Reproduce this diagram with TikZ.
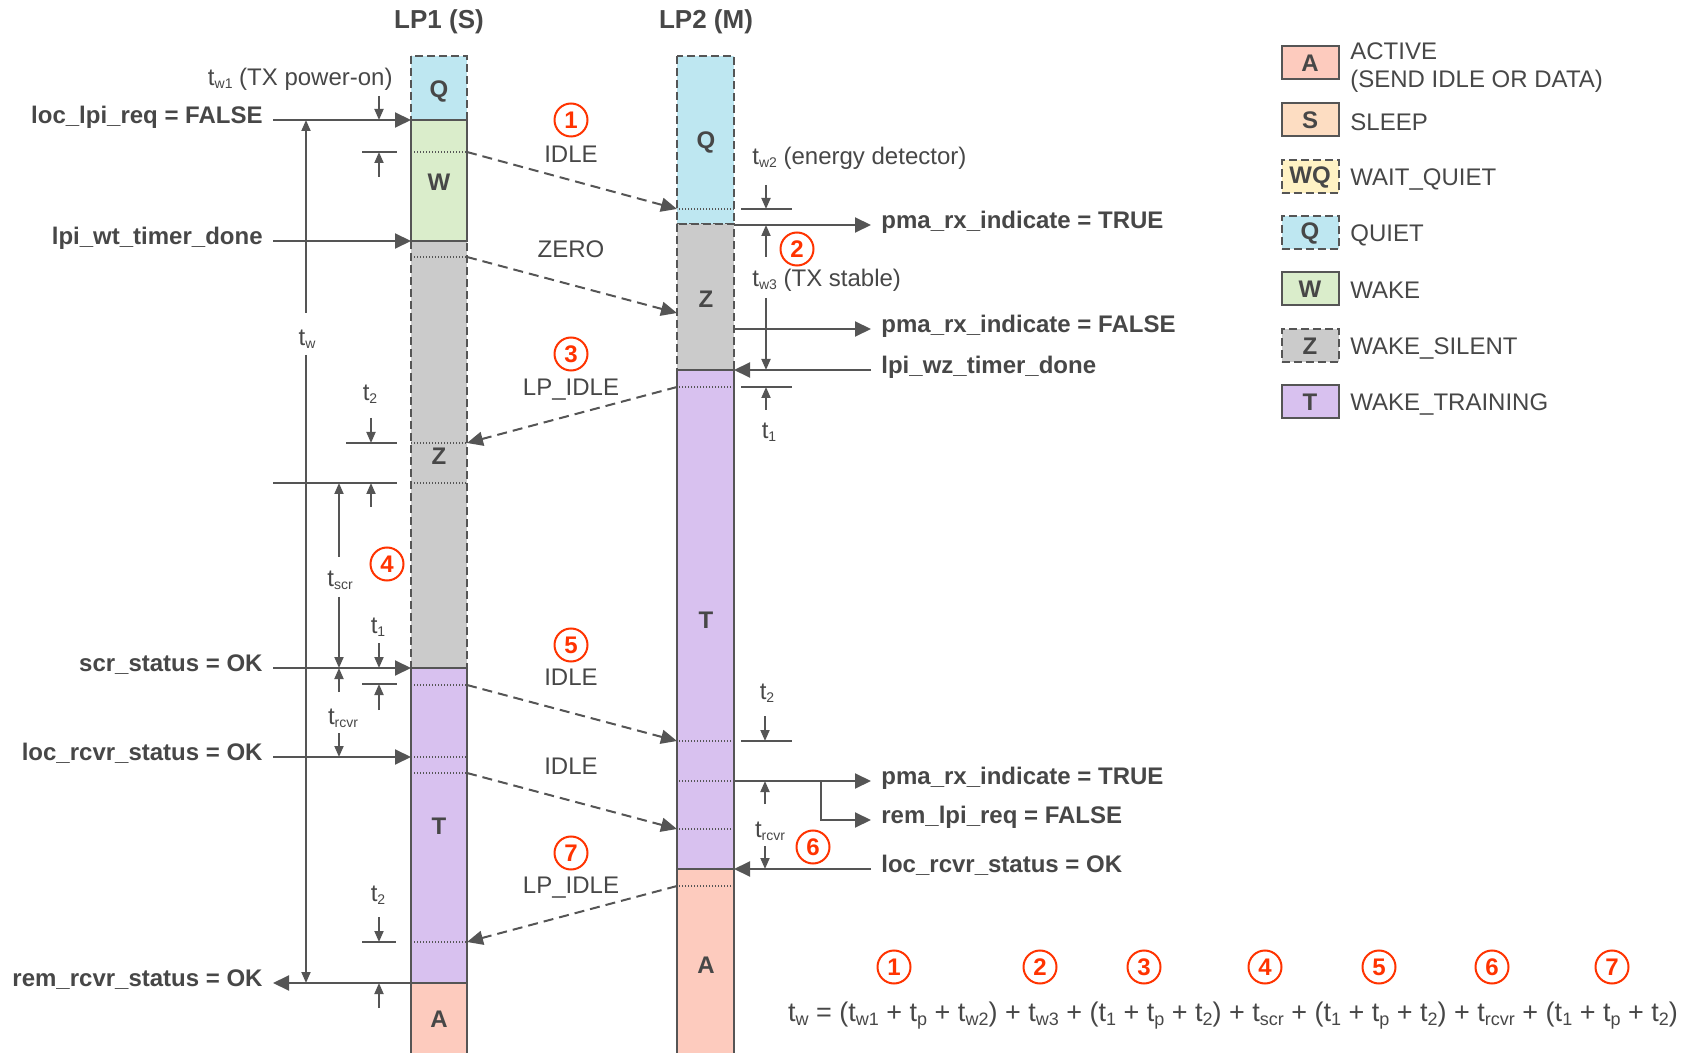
\documentclass[tikz,border=0pt]{standalone}
\usepackage{fontspec}
\setmainfont{Liberation Sans}
\usetikzlibrary{arrows.meta}

\definecolor{ink}{HTML}{474747}
\definecolor{linec}{HTML}{555555}
\definecolor{activec}{HTML}{FDCBBE}
\definecolor{sleepc}{HTML}{FDDDC2}
\definecolor{waitc}{HTML}{FFF2C4}
\definecolor{quietc}{HTML}{BEE7F1}
\definecolor{wakec}{HTML}{DAEDCB}
\definecolor{silentc}{HTML}{CBCBCB}
\definecolor{trainc}{HTML}{D8C1EF}
\definecolor{numred}{HTML}{FF3300}

% t with a lowered subscript
\newcommand{\tsb}[1]{t\raisebox{-1.3pt}{\fontsize{7}{7}\selectfont #1}}
% same, for the sum at the bottom
\newcommand{\tsum}[1]{t\raisebox{-1.8pt}{\fontsize{9}{9}\selectfont #1}}

\tikzset{
  lbl/.style={text=ink, inner sep=0pt, text height=8.6pt, text depth=0pt,
    font=\fontsize{12}{14}\selectfont},
  boldlbl/.style={lbl, font=\bfseries\fontsize{12}{14}\selectfont},
  siglbl/.style={boldlbl, inner xsep=5pt, text depth=5pt},
  sigarrow/.style={draw=linec, line width=1pt, -{Triangle[length=8pt,width=7.5pt]}},
  msgarrow/.style={draw=linec, line width=1pt, dash pattern=on 5pt off 3pt,
    -{Triangle[length=8pt,width=7pt]}},
  dimarrow/.style={draw=linec, line width=0.9pt, -{Triangle[length=5.5pt,width=4.5pt]}},
  tickline/.style={draw=linec, line width=1pt},
  dotline/.style={draw=linec, line width=0.7pt, dash pattern=on 0.7pt off 0.8pt},
  segline/.style={draw=linec, line width=1pt},
  segdashed/.style={segline, dash pattern=on 4pt off 2pt},
  numcirc/.style={circle, draw=numred, line width=1pt, text=numred, inner sep=0pt,
    minimum size=16.5pt, font=\bfseries\fontsize{12}{12}\selectfont},
  legbox/.style={segline, minimum width=28.5pt, minimum height=16.5pt, inner sep=0pt,
    text=ink, font=\bfseries\fontsize{12}{12}\selectfont},
}

\begin{document}
\begin{tikzpicture}[x=0.5pt, y=-0.5pt]
    \useasboundingbox (0,0) rectangle (1693,1053);

    % column headers
    \node[boldlbl, font=\bfseries\fontsize{13}{14}\selectfont] (hone) at (439,20) {LP1 (S)};
    \node[boldlbl, font=\bfseries\fontsize{13}{14}\selectfont] (htwo) at (706,20) {LP2 (M)};

    % LP1 column
    \draw[segdashed, fill=quietc] (411,56) rectangle (467,120);
    \draw[segdashed, fill=silentc] (411,241) rectangle (467,668);
    \draw[segline, fill=wakec] (411,120) rectangle (467,241);
    \draw[segline, fill=trainc] (411,668) rectangle (467,983);
    \draw[segline, fill=activec] (411,983) rectangle (467,1070);
    \node[boldlbl] (qone) at (439,89) {Q};
    \node[boldlbl] (wone) at (439,182) {W};
    \node[boldlbl] (zone) at (439,456) {Z};
    \node[boldlbl] (tone) at (439,826) {T};
    \node[boldlbl] (aone) at (439,1019) {A};

    % LP2 column
    \draw[segdashed, fill=quietc] (677,56) rectangle (734,224);
    \draw[segdashed, fill=silentc] (677,224) rectangle (734,370);
    \draw[segline, fill=trainc] (677,370) rectangle (734,869);
    \draw[segline, fill=activec] (677,869) rectangle (734,1070);
    \node[boldlbl] (qtwo) at (706,140) {Q};
    \node[boldlbl] (ztwo) at (706,299) {Z};
    \node[boldlbl] (ttwo) at (706,620) {T};
    \node[boldlbl] (atwo) at (706,965) {A};

    \coordinate (oneL) at (411,0);
    \coordinate (twoR) at (734,0);

    % dotted marks, named at the facing edge
    \foreach \y [count=\i] in {152,257,443,483,685,757,773,942}
        \draw[dotline] (411,\y) -- (467,\y) coordinate (p\i);
    \foreach \y [count=\i] in {209,387,741,781,829,886}
        \draw[dotline] (734,\y) -- (677,\y) coordinate (q\i);
    \coordinate (zeroin) at (677,313);

    % messages between the link partners
    \draw[msgarrow] (p1) -- (q1);
    \draw[msgarrow] (p2) -- (zeroin);
    \draw[msgarrow] (q2) -- (p3);
    \draw[msgarrow] (p5) -- (q3);
    \draw[msgarrow] (p7) -- (q5);
    \draw[msgarrow] (q6) -- (p8);
    \node[numcirc] (n1) at (571,120) {1};
    \node[lbl] (idleA) at (571,154) {IDLE};
    \node[lbl] (zero) at (571,249) {ZERO};
    \node[numcirc] (n3) at (571,354) {3};
    \node[lbl] (lpidleA) at (571,387) {LP\_IDLE};
    \node[numcirc] (n5) at (571,645) {5};
    \node[lbl] (idleB) at (571,677) {IDLE};
    \node[lbl] (idleC) at (571,766) {IDLE};
    \node[numcirc] (n7) at (571,853) {7};
    \node[lbl] (lpidleB) at (571,885) {LP\_IDLE};

    % LP1 signals
    \node[siglbl, anchor=east] (lpireq) at (273,120) {loc\_lpi\_req = FALSE};
    \node[siglbl, anchor=east] (wtdone) at (273,241) {lpi\_wt\_timer\_done};
    \node[siglbl, anchor=east] (scrok) at (273,668) {scr\_status = OK};
    \node[siglbl, anchor=east] (rcvrok) at (273,757) {loc\_rcvr\_status = OK};
    \node[siglbl, anchor=east] (remok) at (273,983) {rem\_rcvr\_status = OK};
    \draw[sigarrow] (lpireq.east) -- (lpireq.east -| oneL);
    \draw[sigarrow] (wtdone.east) -- (wtdone.east -| oneL);
    \draw[sigarrow] (scrok.east) -- (scrok.east -| oneL);
    \draw[sigarrow] (rcvrok.east) -- (rcvrok.east -| oneL);
    \draw[sigarrow] (remok.east -| oneL) -- (remok.east);

    % LP2 signals
    \node[siglbl, anchor=west] (pmaon) at (871,225) {pma\_rx\_indicate = TRUE};
    \node[siglbl, anchor=west] (pmaoff) at (871,329) {pma\_rx\_indicate = FALSE};
    \node[siglbl, anchor=west] (wzdone) at (871,370) {lpi\_wz\_timer\_done};
    \node[siglbl, anchor=west] (pmaonB) at (871,781) {pma\_rx\_indicate = TRUE};
    \node[siglbl, anchor=west] (remlpi) at (871,820) {rem\_lpi\_req = FALSE};
    \node[siglbl, anchor=west] (rcvrokB) at (871,869) {loc\_rcvr\_status = OK};
    \coordinate (branch) at (821,781);
    \draw[sigarrow] (pmaon.west -| twoR) -- (pmaon.west);
    \draw[sigarrow] (pmaoff.west -| twoR) -- (pmaoff.west);
    \draw[sigarrow] (wzdone.west) -- (wzdone.west -| twoR);
    \draw[sigarrow] (pmaonB.west -| twoR) -- (pmaonB.west);
    \draw[sigarrow] (branch) |- (remlpi.west);
    \draw[sigarrow] (rcvrokB.west) -- (rcvrokB.west -| twoR);
    \node[numcirc] (n2) at (797,249) {2};
    \node[numcirc] (n6) at (813,847) {6};

    % timing marks, LP1 side
    \node[lbl, anchor=east] (tw1) at (393,77) {\tsb{w1} (TX power-on)};
    \draw[dimarrow] (379,96) -- (379,120);
    \draw[tickline] (362,152) -- (397,152);
    \draw[dimarrow] (379,177) -- (379,152);
    \node[lbl] (tw) at (307,337) {\tsb{w}};
    \draw[dimarrow] (306,313) -- (306,120);
    \draw[dimarrow] (306,355) -- (306,983);
    \node[lbl] (ttwoA) at (370,392) {\tsb{2}};
    \draw[dimarrow] (371,418) -- (371,443);
    \draw[tickline] (346,443) -- (397,443);
    \draw[tickline] (273,483) -- (397,483);
    \draw[dimarrow] (371,507) -- (371,483);
    \node[lbl] (tscr) at (340,578) {\tsb{scr}};
    \draw[dimarrow] (339,557) -- (339,483);
    \draw[dimarrow] (339,597) -- (339,668);
    \node[numcirc] (n4) at (387,564) {4};
    \node[lbl] (tonA) at (378,625) {\tsb{1}};
    \draw[dimarrow] (379,643) -- (379,668);
    \draw[tickline] (362,684) -- (397,684);
    \draw[dimarrow] (379,710) -- (379,684);
    \node[lbl] (trcvrA) at (343,716) {\tsb{rcvr}};
    \draw[dimarrow] (339,692) -- (339,668);
    \draw[dimarrow] (339,733) -- (339,757);
    \node[lbl] (ttwoB) at (378,893) {\tsb{2}};
    \draw[dimarrow] (379,917) -- (379,942);
    \draw[tickline] (362,942) -- (396,942);
    \draw[dimarrow] (379,1008) -- (379,983);

    % timing marks, LP2 side
    \node[lbl, anchor=west] (tw2) at (752,156) {\tsb{w2} (energy detector)};
    \draw[dimarrow] (766,185) -- (766,209);
    \draw[tickline] (741,209) -- (792,209);
    \draw[dimarrow] (766,257) -- (766,225);
    \node[lbl, anchor=west] (tw3) at (752,278) {\tsb{w3} (TX stable)};
    \draw[dimarrow] (766,298) -- (766,370);
    \draw[tickline] (741,387) -- (792,387);
    \draw[dimarrow] (766,410) -- (766,387);
    \node[lbl] (tonB) at (769,430) {\tsb{1}};
    \node[lbl] (ttwoC) at (767,691) {\tsb{2}};
    \draw[dimarrow] (765,716) -- (765,741);
    \draw[tickline] (741,741) -- (792,741);
    \draw[dimarrow] (765,804) -- (765,781);
    \node[lbl] (trcvrB) at (770,829) {\tsb{rcvr}};
    \draw[dimarrow] (765,846) -- (765,869);

    % legend
    \node[legbox, fill=activec] (legA) at (1310,63) {A};
    \node[legbox, fill=sleepc] (legS) at (1310,120) {S};
    \node[legbox, fill=waitc, dash pattern=on 4pt off 2pt] (legWQ) at (1310,177) {WQ};
    \node[legbox, fill=quietc, dash pattern=on 4pt off 2pt] (legQ) at (1310,233) {Q};
    \node[legbox, fill=wakec] (legW) at (1310,289) {W};
    \node[legbox, fill=silentc, dash pattern=on 4pt off 2pt] (legZ) at (1310,346) {Z};
    \node[legbox, fill=trainc] (legT) at (1310,402) {T};
    \node[lbl, anchor=west] (legAa) at (1350,51) {ACTIVE};
    \node[lbl, anchor=west] (legAb) at (1350,79) {(SEND IDLE OR DATA)};
    \node[lbl, anchor=west] (legSt) at (1350,122) {SLEEP};
    \node[lbl, anchor=west] (legWQt) at (1350,177) {WAIT\_QUIET};
    \node[lbl, anchor=west] (legQt) at (1350,233) {QUIET};
    \node[lbl, anchor=west] (legWt) at (1350,290) {WAKE};
    \node[lbl, anchor=west] (legZt) at (1350,346) {WAKE\_SILENT};
    \node[lbl, anchor=west] (legTt) at (1350,402) {WAKE\_TRAINING};

    % wake time sum
    \foreach \n/\x in {1/894, 2/1040, 3/1144, 4/1265, 5/1379, 6/1492, 7/1612}
        \node[numcirc] (e\n) at (\x,967) {\n};
    \node[lbl, font=\fontsize{13.5}{15}\selectfont, text height=9.7pt] (sum) at (1233,1012) {\tsum{w} = (\tsum{w1} + \tsum{p} + \tsum{w2}) + \tsum{w3} + (\tsum{1} + \tsum{p} + \tsum{2}) + \tsum{scr} + (\tsum{1} + \tsum{p} + \tsum{2}) + \tsum{rcvr} + (\tsum{1} + \tsum{p} + \tsum{2})};
\end{tikzpicture}
\end{document}
